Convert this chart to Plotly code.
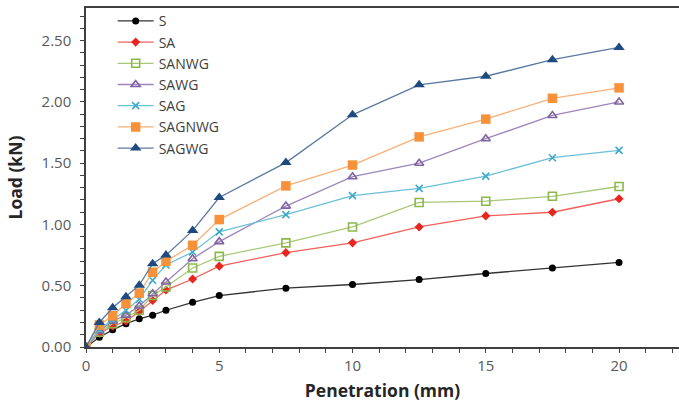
import plotly.graph_objects as go

# Penetration (mm) at each load reading
penetration = [0, 0.5, 1, 1.5, 2, 2.5, 3, 4, 5, 7.5, 10, 12.5, 15, 17.5, 20]

# Load (kN) for each mix
load_S = [0, 0.08, 0.14, 0.19, 0.23, 0.26, 0.30, 0.365, 0.42, 0.48, 0.51, 0.55, 0.60, 0.645, 0.69]
load_SA = [0, 0.11, 0.17, 0.21, 0.29, 0.38, 0.465, 0.555, 0.66, 0.77, 0.85, 0.98, 1.07, 1.10, 1.21]
load_SANWG = [0, 0.12, 0.19, 0.24, 0.30, 0.42, 0.49, 0.645, 0.74, 0.85, 0.98, 1.18, 1.19, 1.23, 1.31]
load_SAWG = [0, 0.13, 0.21, 0.26, 0.335, 0.435, 0.53, 0.72, 0.86, 1.15, 1.39, 1.50, 1.70, 1.89, 2.00]
load_SAG = [0, 0.145, 0.22, 0.30, 0.39, 0.545, 0.67, 0.775, 0.94, 1.08, 1.235, 1.295, 1.395, 1.545, 1.605]
load_SAGNWG = [0, 0.18, 0.255, 0.355, 0.44, 0.61, 0.70, 0.83, 1.04, 1.315, 1.485, 1.715, 1.86, 2.03, 2.115]
load_SAGWG = [0, 0.20, 0.32, 0.41, 0.505, 0.68, 0.75, 0.95, 1.22, 1.505, 1.895, 2.14, 2.21, 2.345, 2.445]

series_names = ["S", "SA", "SANWG", "SAWG", "SAG", "SAGNWG", "SAGWG"]
series_values = [load_S, load_SA, load_SANWG, load_SAWG, load_SAG, load_SAGNWG, load_SAGWG]

# (marker color, line color, symbol, size)
styles = [
    ("#000000", "#333333", "circle", 7),
    ("#e8261f", "#f0605a", "diamond", 7),
    ("#8cb84a", "#a8c878", "square-open", 8),
    ("#8064a2", "#9d86bb", "triangle-up-open", 8),
    ("#3fa9c8", "#6cc0d8", "x-thin-open", 7),
    ("#f7923a", "#f9b078", "square", 9.5),
    ("#1f4a7f", "#5a79a3", "triangle-up", 10),
]

fig = go.Figure()
for name, vals, (mc, lc, sym, sz) in zip(series_names, series_values, styles):
    marker = dict(color=mc, symbol=sym, size=sz)
    if sym.endswith("-open"):
        marker["line"] = dict(color=mc, width=1.6)
    fig.add_trace(go.Scatter(
        x=penetration, y=vals, name=name, mode="lines+markers",
        line=dict(color=lc, width=1.3), marker=marker,
    ))

font_family = "Open Sans, Lato, sans-serif"
axis_color = "#404040"
tick_color = "#595959"
title_color = "#262626"

fig.update_layout(
    width=679, height=402,
    margin=dict(l=86, r=0, t=8, b=55),
    paper_bgcolor="white", plot_bgcolor="white",
    font=dict(family=font_family, color=tick_color, size=14),
    showlegend=True,
    legend=dict(
        x=0.045, y=1.008, xanchor="left", yanchor="top",
        bgcolor="rgba(0,0,0,0)", font=dict(size=14, color="#404040"),
        tracegroupgap=0, itemwidth=36,
    ),
    xaxis=dict(
        range=[0, 22.25], tickmode="linear", tick0=0, dtick=5,
        showgrid=False, zeroline=False,
        showline=True, linecolor=axis_color, linewidth=1.5, mirror=True,
        ticks="outside", ticklen=4, tickcolor=axis_color,
        minor=dict(dtick=1, ticks="outside", ticklen=4, tickcolor=axis_color),
        tickfont=dict(size=15, color=tick_color),
        title=dict(text="<b>Penetration (mm)</b>", font=dict(size=17.5, color=title_color), standoff=11),
    ),
    yaxis=dict(
        range=[0, 2.767], tickmode="linear", tick0=0, dtick=0.5, tickformat=".2f",
        showgrid=False, zeroline=False,
        showline=True, linecolor=axis_color, linewidth=1.5,
        ticks="outside", ticklen=4, tickcolor=axis_color,
        minor=dict(dtick=0.1, ticks="outside", ticklen=4, tickcolor=axis_color),
        tickfont=dict(size=15, color=tick_color), ticklabelstandoff=6,
    ),
    annotations=[dict(
        text="<b>Load (kN)</b>", textangle=-90, showarrow=False,
        xref="paper", yref="paper", x=-72 / 593, y=0.5,
        xanchor="center", yanchor="middle",
        font=dict(size=17.5, color=title_color),
    )],
)

fig.write_html("out.html")
